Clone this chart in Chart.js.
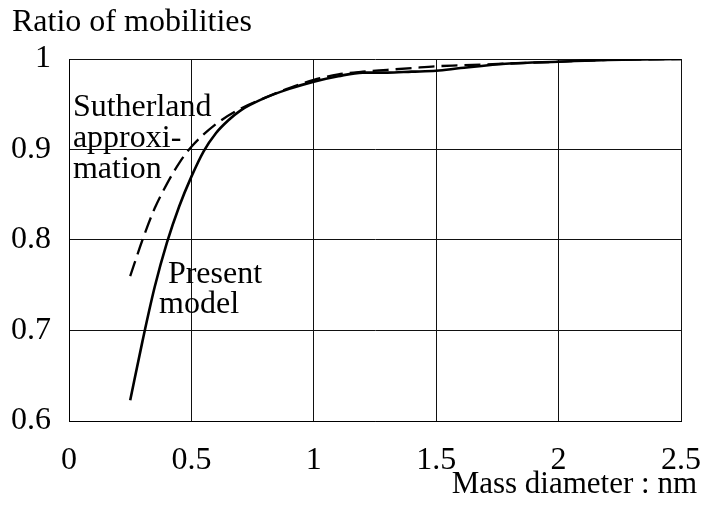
<!DOCTYPE html>
<html>
<head>
<meta charset="utf-8">
<script src="https://cdn.jsdelivr.net/npm/chart.js@4/dist/chart.umd.min.js"></script>
<style>
  html, body { margin: 0; padding: 0; background: #fff; }
  #wrap { width: 701px; height: 505px; }
</style>
</head>
<body>
<div id="wrap"><canvas id="mobChart" width="701" height="505"></canvas></div>
<script>
// values
const present_x = [0.25, 0.3, 0.35, 0.4, 0.45, 0.5, 0.55, 0.6, 0.65, 0.7, 0.8, 0.9, 1.0, 1.1, 1.2, 1.3, 1.4, 1.5, 1.6, 1.8, 2.0, 2.2, 2.5]
const present_y = [0.623, 0.688, 0.748, 0.797, 0.837, 0.870, 0.898, 0.918, 0.932, 0.943, 0.957, 0.967, 0.975, 0.981, 0.985, 0.985, 0.986, 0.987, 0.990, 0.995, 0.997, 0.999, 1.0]

const sutherland_x = [0.25, 0.3, 0.35, 0.4, 0.45, 0.5, 0.6, 0.7, 0.8, 0.9, 1.0, 1.1, 1.2, 1.3, 1.4, 1.5, 1.6, 1.8, 2.0, 2.2, 2.5]
const sutherland_y = [0.760, 0.800, 0.835, 0.862, 0.885, 0.903, 0.928, 0.945, 0.957, 0.968, 0.977, 0.983, 0.986, 0.988, 0.990, 0.992, 0.993, 0.995, 0.997, 0.999, 1.0]

const x_ticks = [0, 0.5, 1, 1.5, 2, 2.5]
const y_ticks = [0.6, 0.7, 0.8, 0.9, 1]

const y_title = 'Ratio of mobilities'
const x_title = 'Mass diameter : nm'

// text labels inside the plot, anchored at data coordinates (left, baseline)
const note_lines = ['Sutherland', 'approxi-', 'mation', 'Present', 'model']
const note_x = [0.016, 0.016, 0.016, 0.404, 0.368]
const note_y = [0.937, 0.903, 0.869, 0.753, 0.719]

const FONT = "'Liberation Serif', 'Times New Roman', serif"
const FSIZE = 32

const toPoints = (xs, ys) => xs.map((x, i) => ({x: x, y: ys[i]}))

const notesPlugin = {
    id: 'notes',
    afterDatasetsDraw(chart) {
        const ctx = chart.ctx
        const xs = chart.scales.x
        const ys = chart.scales.y
        ctx.save()
        ctx.fillStyle = '#000'
        ctx.font = FSIZE + 'px ' + FONT
        ctx.textBaseline = 'alphabetic'
        ctx.textAlign = 'left'
        note_lines.forEach((t, i) => {
            ctx.fillText(t, xs.getPixelForValue(note_x[i]), ys.getPixelForValue(note_y[i]))
        })
        // x axis title, right aligned a little past the plot edge
        ctx.textAlign = 'right'
        ctx.font = '31px ' + FONT
        ctx.fillText(x_title, chart.width - 4, chart.height - 12)
        ctx.restore()
    }
}

const ctx = document.getElementById('mobChart').getContext('2d')
const mobChart = new Chart(ctx, {
    type: 'line',
    data: {
        datasets: [
            {
                label: 'Present model',
                data: toPoints(present_x, present_y),
                borderColor: '#000',
                borderWidth: 2.6,
                pointRadius: 0,
                cubicInterpolationMode: 'monotone',
                fill: false
            },
            {
                label: 'Sutherland approximation',
                data: toPoints(sutherland_x, sutherland_y),
                borderColor: '#000',
                borderWidth: 2.3,
                borderDash: [16, 7],
                pointRadius: 0,
                cubicInterpolationMode: 'monotone',
                fill: false
            }
        ]
    },
    options: {
        responsive: false,
        animation: false,
        events: [],
        layout: {
            padding: {left: 12, right: 0, top: 0, bottom: 0}
        },
        plugins: {
            legend: {display: false},
            tooltip: {enabled: false},
            title: {
                display: true,
                text: y_title,
                align: 'start',
                color: '#000',
                font: {family: FONT, size: FSIZE, weight: 'normal'},
                padding: {top: 3, bottom: 17.6}
            }
        },
        scales: {
            x: {
                type: 'linear',
                min: 0,
                max: 2.5,
                afterBuildTicks: (scale) => { scale.ticks = x_ticks.map(v => ({value: v})) },
                afterFit: (scale) => { scale.height = 84; scale.paddingRight = 20 },
                ticks: {
                    color: '#000',
                    padding: 20,
                    font: {family: FONT, size: FSIZE},
                    callback: (v) => String(v)
                },
                grid: {color: '#111', lineWidth: 1, drawTicks: false},
                border: {color: '#000', width: 1}
            },
            y: {
                type: 'linear',
                min: 0.6,
                max: 1,
                afterBuildTicks: (scale) => { scale.ticks = y_ticks.map(v => ({value: v})) },
                afterFit: (scale) => { scale.width = 57 },
                ticks: {
                    color: '#000',
                    padding: 18,
                    font: {family: FONT, size: FSIZE},
                    callback: (v) => String(v)
                },
                grid: {color: '#111', lineWidth: 1, drawTicks: false},
                border: {color: '#000', width: 1}
            }
        }
    },
    plugins: [notesPlugin]
})
</script>
</body>
</html>
